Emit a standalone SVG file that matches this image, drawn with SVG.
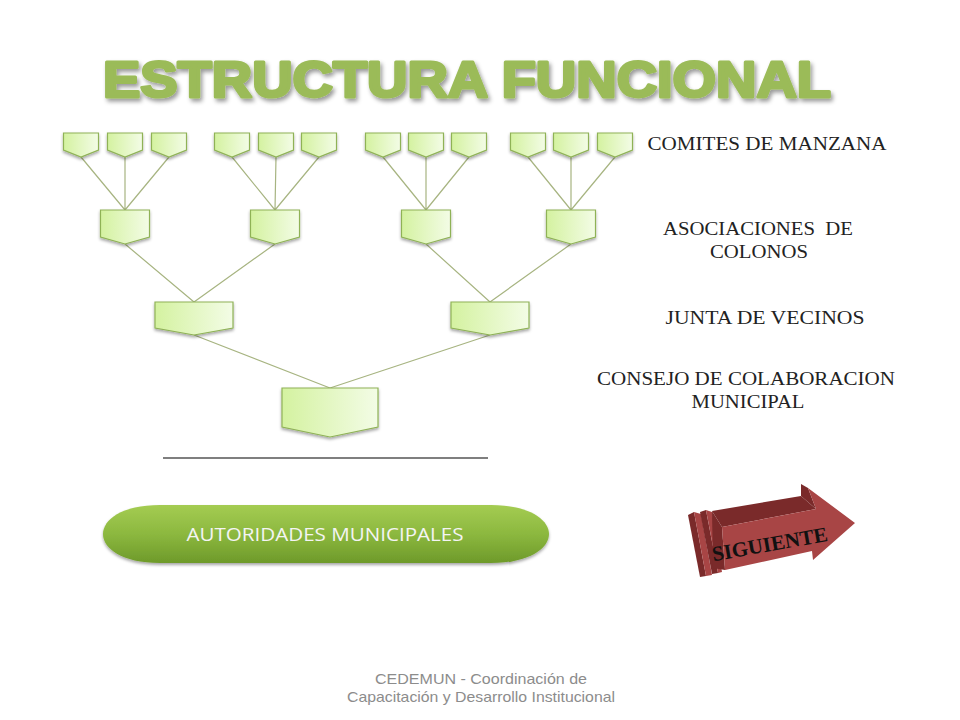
<svg xmlns="http://www.w3.org/2000/svg" width="960" height="720" viewBox="0 0 960 720">
<defs>
<linearGradient id="nodeFill" x1="0" y1="0" x2="1" y2="0">
<stop offset="0" stop-color="#d4f2a0"/>
<stop offset="1" stop-color="#f3fce6"/>
</linearGradient>
<linearGradient id="pillFill" x1="0" y1="0" x2="0" y2="1">
<stop offset="0" stop-color="#a4cc52"/>
<stop offset="0.5" stop-color="#8cb83f"/>
<stop offset="1" stop-color="#6e9a2a"/>
</linearGradient>
<filter id="shadow" x="-20%" y="-20%" width="140%" height="160%">
<feDropShadow dx="0" dy="2" stdDeviation="1.5" flood-color="#000" flood-opacity="0.35"/>
</filter>
<filter id="titleShadow" x="-5%" y="-20%" width="110%" height="160%">
<feDropShadow dx="2" dy="3" stdDeviation="2" flood-color="#000" flood-opacity="0.4"/>
</filter>
<style>
.node{fill:url(#nodeFill);stroke:#8fb257;stroke-width:1.2;filter:url(#shadow)}
.conn{stroke:#a7b481;stroke-width:1.2;fill:none}
.lbl{font-family:"Liberation Serif","Times New Roman",serif;font-size:18px;fill:#222;text-anchor:middle}
.foot{font-family:"Liberation Sans",Arial,sans-serif;font-size:15px;fill:#8c8c8c;text-anchor:middle}
.dk{fill:#7a2a2a}
.lt{fill:#a84545}
</style>
</defs>
<rect width="960" height="720" fill="#ffffff"/>

<text x="467" y="97" font-family="'Liberation Sans',Arial,sans-serif" font-weight="bold" font-size="50" fill="#9bbb59" stroke="#9bbb59" stroke-width="3" stroke-linejoin="round" textLength="728" lengthAdjust="spacingAndGlyphs" text-anchor="middle" filter="url(#titleShadow)">ESTRUCTURA FUNCIONAL</text>

<g id="connectors">
<path class="conn" d="M81,157 L125,210 M125,157 L125,210 M169,157 L125,210"/>
<path class="conn" d="M232,157 L275,210 M276,157 L275,210 M319,157 L275,210"/>
<path class="conn" d="M383,157 L426,210 M426,157 L426,210 M469,157 L426,210"/>
<path class="conn" d="M528,157 L571,210 M571,157 L571,210 M615,157 L571,210"/>
<path class="conn" d="M125,244 L194,302 M275,244 L194,302"/>
<path class="conn" d="M426,244 L490,302 M571,244 L490,302"/>
<path class="conn" d="M194,335 L330,388 M490,335 L330,388"/>
</g>

<g id="n1"><path class="node" d="M63.5,133 H98.5 V150 L81,157 L63.5,150 Z"/></g>
<g id="n2"><path class="node" d="M107.5,133 H142.5 V150 L125,157 L107.5,150 Z"/></g>
<g id="n3"><path class="node" d="M151.5,133 H186.5 V150 L169,157 L151.5,150 Z"/></g>
<g id="n4"><path class="node" d="M214.5,133 H249.5 V150 L232,157 L214.5,150 Z"/></g>
<g id="n5"><path class="node" d="M258.5,133 H293.5 V150 L276,157 L258.5,150 Z"/></g>
<g id="n6"><path class="node" d="M301.5,133 H336.5 V150 L319,157 L301.5,150 Z"/></g>
<g id="n7"><path class="node" d="M365.5,133 H400.5 V150 L383,157 L365.5,150 Z"/></g>
<g id="n8"><path class="node" d="M408.5,133 H443.5 V150 L426,157 L408.5,150 Z"/></g>
<g id="n9"><path class="node" d="M451.5,133 H486.5 V150 L469,157 L451.5,150 Z"/></g>
<g id="n10"><path class="node" d="M510.5,133 H545.5 V150 L528,157 L510.5,150 Z"/></g>
<g id="n11"><path class="node" d="M553.5,133 H588.5 V150 L571,157 L553.5,150 Z"/></g>
<g id="n12"><path class="node" d="M597.5,133 H632.5 V150 L615,157 L597.5,150 Z"/></g>

<g id="a1"><path class="node" d="M100.5,210 H149.5 V237 L125,244 L100.5,237 Z"/></g>
<g id="a2"><path class="node" d="M250.5,210 H299.5 V237 L275,244 L250.5,237 Z"/></g>
<g id="a3"><path class="node" d="M401.5,210 H450.5 V237 L426,244 L401.5,237 Z"/></g>
<g id="a4"><path class="node" d="M546.5,210 H595.5 V237 L571,244 L546.5,237 Z"/></g>

<g id="j1"><path class="node" d="M155,302 H233 V328 L194,335 L155,328 Z"/></g>
<g id="j2"><path class="node" d="M451,302 H529 V328 L490,335 L451,328 Z"/></g>

<g id="c1"><path class="node" d="M282,388 H378 V427 L330,437 L282,427 Z"/></g>

<line x1="163" y1="458" x2="488" y2="458" stroke="#000" stroke-width="1.2"/>

<g id="labels">
<text class="lbl" x="767" y="150" textLength="239" lengthAdjust="spacingAndGlyphs">COMITES DE MANZANA</text>
<text class="lbl" x="758" y="235" xml:space="preserve" textLength="190" lengthAdjust="spacingAndGlyphs">ASOCIACIONES  DE</text>
<text class="lbl" x="759" y="258" textLength="98" lengthAdjust="spacingAndGlyphs">COLONOS</text>
<text class="lbl" x="765" y="324" textLength="199" lengthAdjust="spacingAndGlyphs">JUNTA DE VECINOS</text>
<text class="lbl" x="746" y="385" textLength="298" lengthAdjust="spacingAndGlyphs">CONSEJO DE COLABORACION</text>
<text class="lbl" x="748" y="408" textLength="113" lengthAdjust="spacingAndGlyphs">MUNICIPAL</text>
</g>

<g id="autoridades">
<path d="M160,505 H491 C530,505 549,520 549,534 C549,548 530,563 491,563 H160 C121,563 103,548 103,534 C103,520 121,505 160,505 Z" fill="url(#pillFill)" filter="url(#shadow)"/>
<text x="325" y="541" font-family="'Open Sans','Liberation Sans',sans-serif" font-size="19" fill="#f4f4f4" text-anchor="middle" textLength="277" lengthAdjust="spacingAndGlyphs">AUTORIDADES MUNICIPALES</text>
</g>

<g id="siguiente">
<polygon class="dk" points="688,515 694,512 706,576 700,577"/>
<polygon class="lt" points="694,512 701,514 712,575 706,576"/>
<polygon class="dk" points="700,512 706,510 718,573 712,574"/>
<polygon class="lt" points="706,510 712,512 722,572 718,573"/>
<polygon class="dk" points="712,511 801,496 816,509 722,527"/>
<polygon class="dk" points="712,511 722,527 725,570 713,568"/>
<polygon class="dk" points="801,484 808,488 816,509 801,496"/>
<polygon class="lt" points="722,527 816,509 808,488 855,523 813,560 812,551 725,570"/>
<text x="771" y="551" font-family="'Liberation Serif','Times New Roman',serif" font-weight="bold" font-size="21" fill="#111" text-anchor="middle" textLength="117" lengthAdjust="spacingAndGlyphs" transform="rotate(-10 771 551)">SIGUIENTE</text>
</g>

<text class="foot" x="481" y="684" textLength="212" lengthAdjust="spacingAndGlyphs">CEDEMUN - Coordinación de</text>
<text class="foot" x="481" y="702" textLength="268" lengthAdjust="spacingAndGlyphs">Capacitación y Desarrollo Institucional</text>
</svg>
